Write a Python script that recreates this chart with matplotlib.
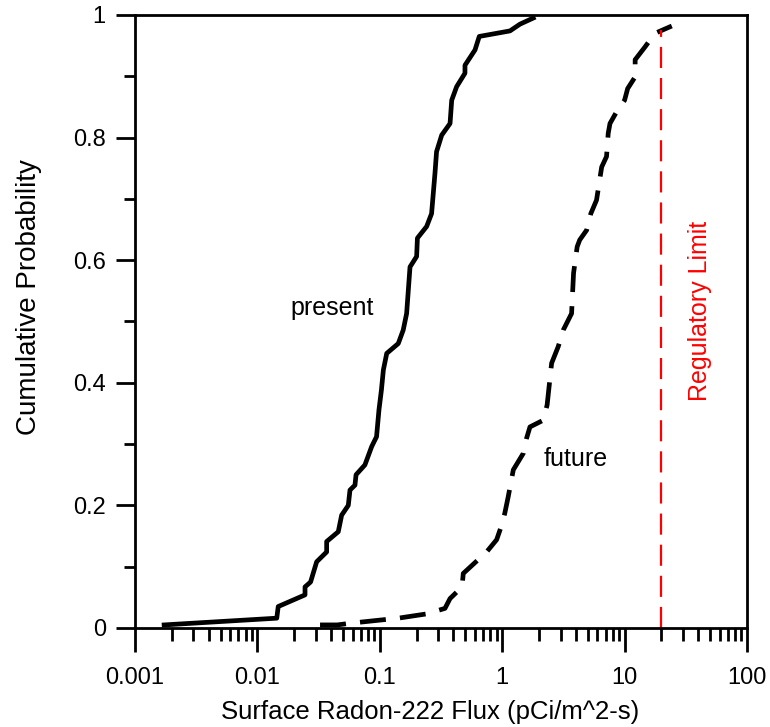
import matplotlib
matplotlib.use("Agg")
import matplotlib.pyplot as plt
from matplotlib.ticker import FixedLocator, LogLocator, NullFormatter

plt.rcParams['font.family'] = ['Liberation Sans', 'DejaVu Sans']

# present conditions: flux (pCi/m^2-s) vs cumulative probability
present_x = [0.00173, 0.0144, 0.0148, 0.0245, 0.0245, 0.0272, 0.0305, 0.0368, 0.0368,
             0.0458, 0.0488, 0.0553, 0.0571, 0.0627, 0.0640, 0.0756, 0.0859, 0.0941,
             0.0985, 0.1031, 0.107, 0.114, 0.1416, 0.1554, 0.1657, 0.1766, 0.200, 0.203,
             0.2415, 0.265, 0.2825, 0.291, 0.3206, 0.375, 0.387, 0.4245, 0.4966, 0.4966,
             0.600, 0.650, 1.158, 1.397, 1.795]
present_p = [0.005, 0.016, 0.035, 0.054, 0.067, 0.075, 0.108, 0.124, 0.141,
             0.157, 0.184, 0.200, 0.225, 0.233, 0.250, 0.266, 0.296, 0.312,
             0.356, 0.388, 0.421, 0.448, 0.464, 0.486, 0.513, 0.589, 0.606, 0.636,
             0.655, 0.676, 0.742, 0.777, 0.804, 0.823, 0.861, 0.883, 0.905, 0.918,
             0.943, 0.965, 0.974, 0.985, 0.995]

# future conditions
future_x = [0.0325, 0.045, 0.0589, 0.1416, 0.2415, 0.341, 0.375, 0.47, 0.481, 0.746,
            0.901, 0.98, 1.05, 1.12, 1.233, 1.489, 1.58, 1.687, 2.17, 2.33, 2.40,
            2.535, 2.87, 3.155, 3.69, 3.83, 4.1, 4.3, 4.9, 5.3, 5.9, 6.5, 7.12, 7.35,
            7.6, 8.6, 10.0, 10.6, 12.2, 12.2, 14.7, 17.7, 24.3]
future_p = [0.005, 0.005, 0.008, 0.016, 0.023, 0.032, 0.048, 0.067, 0.089, 0.124,
            0.144, 0.165, 0.187, 0.214, 0.258, 0.285, 0.309, 0.328, 0.339, 0.364, 0.388,
            0.432, 0.459, 0.486, 0.513, 0.579, 0.622, 0.633, 0.649, 0.676, 0.698, 0.752,
            0.769, 0.807, 0.823, 0.842, 0.861, 0.880, 0.899, 0.927, 0.948, 0.970, 0.982]

reg_limit = 20
reg_top = 0.975

fig = plt.figure(figsize=(7.7, 7.27), dpi=100)
ax = fig.add_axes([0.1753, 0.1362, 0.7948, 0.8432])

ax.plot(present_x, present_p, color='black', lw=3.4)
ax.plot(future_x, future_p, color='black', lw=3.4, dashes=(5.5, 3))
ax.plot([reg_limit, reg_limit], [0, reg_top], color='red', lw=1.6, dashes=(9.5, 4.5))

ax.set_xscale('log')
ax.set_xlim(0.001, 100)
ax.set_ylim(0, 1)

ax.xaxis.set_major_locator(FixedLocator([0.001, 0.01, 0.1, 1, 10, 100]))
ax.set_xticklabels(['0.001', '0.01', '0.1', '1', '10', '100'])
ax.xaxis.set_minor_locator(LogLocator(base=10, subs=range(2, 10), numticks=20))
ax.xaxis.set_minor_formatter(NullFormatter())

ax.yaxis.set_major_locator(FixedLocator([0, 0.2, 0.4, 0.6, 0.8, 1.0]))
ax.set_yticklabels(['0', '0.2', '0.4', '0.6', '0.8', '1'])
ax.yaxis.set_minor_locator(FixedLocator([0.1, 0.3, 0.5, 0.7, 0.9]))

ax.tick_params(axis='x', which='major', length=17, width=2, pad=11, labelsize=17)
ax.tick_params(axis='x', which='minor', length=9, width=2)
ax.tick_params(axis='y', which='major', length=14, width=2, pad=7, labelsize=17)
ax.tick_params(axis='y', which='minor', length=8, width=2)
for s in ax.spines.values():
    s.set_linewidth(2)

ax.set_xlabel('Surface Radon-222 Flux (pCi/m^2-s)', fontsize=18.5)
ax.xaxis.set_label_coords(0.482, -0.1175)
ax.set_ylabel('Cumulative Probability', fontsize=20)
ax.yaxis.set_label_coords(-0.152, 0.54)

ax.text(0.0407, 0.522, 'present', fontsize=18, ha='center', va='center')
ax.text(4.0, 0.276, 'future', fontsize=18, ha='center', va='center')
ax.text(41, 0.517, 'Regulatory Limit', fontsize=18, color='red', rotation=90,
        ha='center', va='center')

fig.savefig('out.png', dpi=100)
